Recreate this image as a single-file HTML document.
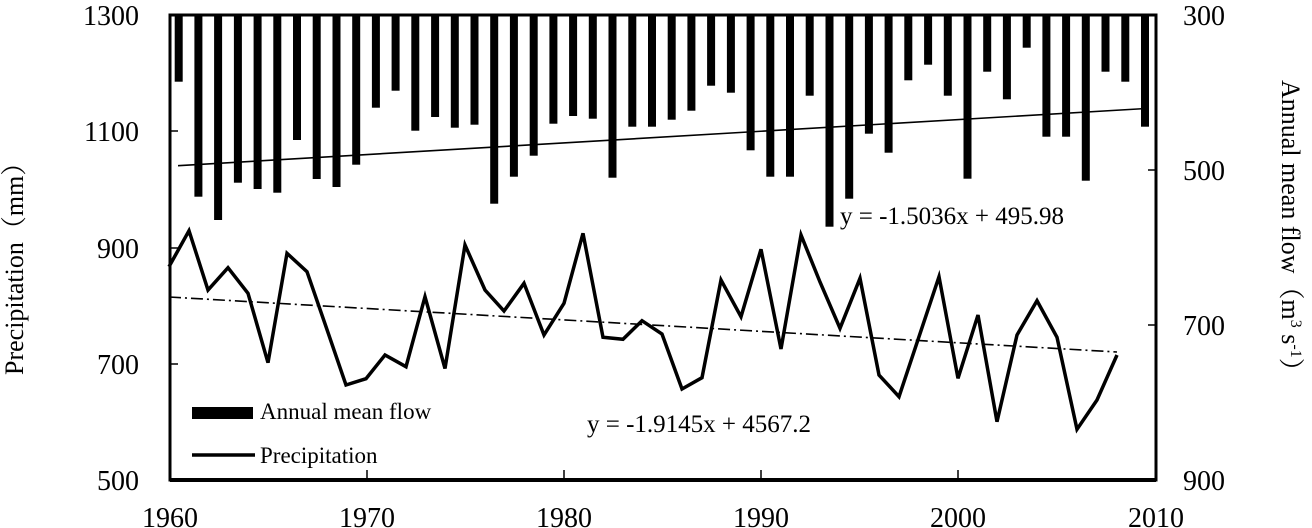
<!DOCTYPE html>
<html><head><meta charset="utf-8"><style>
html,body{margin:0;padding:0;background:#fff;}
svg{display:block;}
text{font-family:"Liberation Serif","Noto Serif CJK SC",serif;fill:#000;}
</style></head><body>
<svg width="1312" height="528" viewBox="0 0 1312 528" xmlns="http://www.w3.org/2000/svg">
<g fill="#000">
<rect x="174.7" y="15" width="8" height="66.7"/>
<rect x="194.4" y="15" width="8" height="181.7"/>
<rect x="214.1" y="15" width="8" height="205"/>
<rect x="233.9" y="15" width="8" height="167.7"/>
<rect x="253.6" y="15" width="8" height="174"/>
<rect x="273.3" y="15" width="8" height="177.7"/>
<rect x="293.0" y="15" width="8" height="125"/>
<rect x="312.7" y="15" width="8" height="164"/>
<rect x="332.5" y="15" width="8" height="172"/>
<rect x="352.2" y="15" width="8" height="149.7"/>
<rect x="371.9" y="15" width="8" height="92.7"/>
<rect x="391.6" y="15" width="8" height="75.7"/>
<rect x="411.3" y="15" width="8" height="115.7"/>
<rect x="431.1" y="15" width="8" height="102"/>
<rect x="450.8" y="15" width="8" height="112.7"/>
<rect x="470.5" y="15" width="8" height="109.7"/>
<rect x="490.2" y="15" width="8" height="188.7"/>
<rect x="509.9" y="15" width="8" height="161.7"/>
<rect x="529.7" y="15" width="8" height="140.7"/>
<rect x="549.4" y="15" width="8" height="108.7"/>
<rect x="569.1" y="15" width="8" height="101"/>
<rect x="588.8" y="15" width="8" height="103.7"/>
<rect x="608.5" y="15" width="8" height="162.7"/>
<rect x="628.3" y="15" width="8" height="111.7"/>
<rect x="648.0" y="15" width="8" height="111.7"/>
<rect x="667.7" y="15" width="8" height="104.7"/>
<rect x="687.4" y="15" width="8" height="95.7"/>
<rect x="707.1" y="15" width="8" height="70.7"/>
<rect x="726.9" y="15" width="8" height="77.7"/>
<rect x="746.6" y="15" width="8" height="135.3"/>
<rect x="766.3" y="15" width="8" height="161.7"/>
<rect x="786.0" y="15" width="8" height="161.7"/>
<rect x="805.7" y="15" width="8" height="80.7"/>
<rect x="825.5" y="15" width="8" height="211.7"/>
<rect x="845.2" y="15" width="8" height="183.7"/>
<rect x="864.9" y="15" width="8" height="118.7"/>
<rect x="884.6" y="15" width="8" height="137.7"/>
<rect x="904.3" y="15" width="8" height="65.3"/>
<rect x="924.1" y="15" width="8" height="49.7"/>
<rect x="943.8" y="15" width="8" height="80.7"/>
<rect x="963.5" y="15" width="8" height="163.7"/>
<rect x="983.2" y="15" width="8" height="56.7"/>
<rect x="1002.9" y="15" width="8" height="84.3"/>
<rect x="1022.7" y="15" width="8" height="32.7"/>
<rect x="1042.4" y="15" width="8" height="121.7"/>
<rect x="1062.1" y="15" width="8" height="121.7"/>
<rect x="1081.8" y="15" width="8" height="165.7"/>
<rect x="1101.5" y="15" width="8" height="56.7"/>
<rect x="1121.3" y="15" width="8" height="66.7"/>
<rect x="1141.0" y="15" width="8" height="111.7"/>
</g>
<line x1="178" y1="165.7" x2="1146" y2="108.5" stroke="#000" stroke-width="1.6"/>
<line x1="169" y1="297" x2="1117" y2="352" stroke="#000" stroke-width="1.6" stroke-dasharray="12,4,2,4"/>
<polyline fill="none" stroke="#000" stroke-width="3.5" points="169,266.7 189,230.7 208,290 228,267.7 248,293.3 268,362.7 287,253.3 307,271.7 326,326.7 346,385 366,378.7 385,355 406,366.7 425,296.7 445,368.5 465,245 485,290 504,311 524,283.3 544,335 564,303.3 583,233.3 603,337.3 623,339.3 642,320.7 662,334 682,389 702,377.7 721,280 741,316.7 761,249.3 781,349 801,235 820,282 840,328.3 860,278.3 879,375 899,396.7 919,336.7 939,276.7 958,378.3 978,315 997,421.7 1017,335 1037,300.7 1057,337.3 1077,429.3 1097,400 1117,355"/>
<rect x="170" y="15" width="986" height="465" fill="none" stroke="#000" stroke-width="3"/>
<line x1="170" y1="480" x2="1156" y2="480" stroke="#000" stroke-width="4"/>
<g stroke="#000" stroke-width="1.5">
<line x1="170" y1="131" x2="178" y2="131"/><line x1="170" y1="248" x2="178" y2="248"/><line x1="170" y1="364" x2="178" y2="364"/>
<line x1="1148" y1="170" x2="1156" y2="170"/><line x1="1148" y1="325" x2="1156" y2="325"/>
<line x1="367" y1="470" x2="367" y2="480"/><line x1="564" y1="470" x2="564" y2="480"/><line x1="761" y1="470" x2="761" y2="480"/><line x1="958" y1="470" x2="958" y2="480"/>
</g>
<g font-size="28" text-anchor="end">
<text x="139" y="25">1300</text><text x="139" y="141">1100</text><text x="139" y="258">900</text><text x="139" y="374">700</text><text x="139" y="490">500</text>
</g>
<g font-size="28">
<text x="1183" y="25">300</text><text x="1183" y="180">500</text><text x="1183" y="335">700</text><text x="1183" y="490">900</text>
</g>
<g font-size="28" text-anchor="middle">
<text x="170" y="527">1960</text><text x="367" y="527">1970</text><text x="564" y="527">1980</text><text x="761" y="527">1990</text><text x="958" y="527">2000</text><text x="1156" y="527">2010</text>
</g>
<text font-size="26" transform="translate(23,375) rotate(-90)">Precipitation（mm）</text>
<text font-size="26" transform="translate(1282,80) rotate(90)">Annual mean flow（m<tspan font-size="16" dy="-9">3</tspan><tspan dy="9"> s</tspan><tspan font-size="16" dy="-9">-1</tspan><tspan dy="9">）</tspan></text>
<rect x="192" y="407" width="61" height="12" fill="#000"/>
<text x="260" y="419" font-size="23">Annual mean flow</text>
<line x1="192" y1="455" x2="255" y2="455" stroke="#000" stroke-width="3.5"/>
<text x="260" y="463" font-size="23">Precipitation</text>
<text x="587" y="432" font-size="25">y = -1.9145x + 4567.2</text>
<text x="840" y="224" font-size="25">y = -1.5036x + 495.98</text>
</svg>
</body></html>
